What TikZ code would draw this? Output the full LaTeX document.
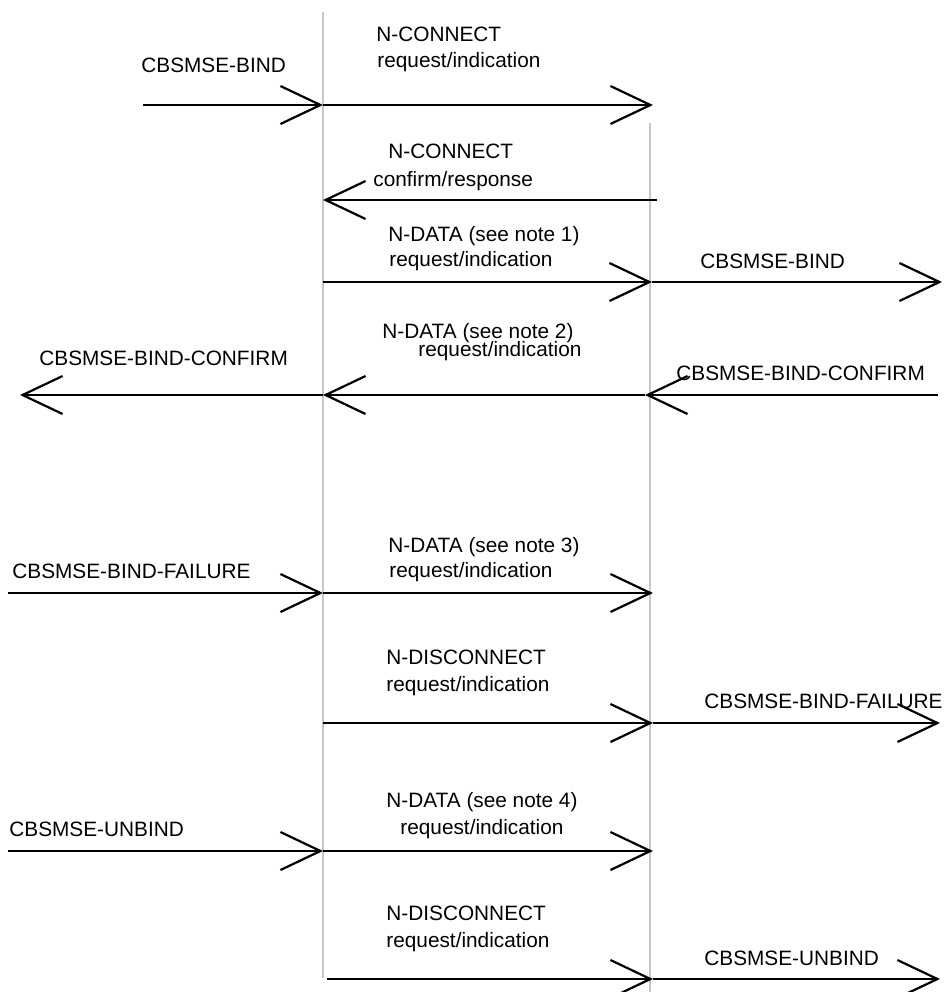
\documentclass[tikz,border=0pt]{standalone}
\usepackage{fontspec}
\setmainfont{Liberation Sans}
\usetikzlibrary{arrows.meta}
\tikzset{
	lbl/.style={anchor=base west, inner sep=0pt},
	msg/.style={->, line width=1.1pt},
	life/.style={line width=1.4pt, black!22}
}
\begin{document}
\begin{tikzpicture}[x=0.5pt, y=-0.5pt, font=\fontsize{10.4}{12}\selectfont, line join=round, >={Straight Barb[length=20pt,width=19pt]}]
	\useasboundingbox (0,0) rectangle (948,992);
	\def\xa{323} % first lifeline
	\def\xb{650} % second lifeline
	\coordinate (a0) at (\xa,12);
	\coordinate (a1) at (\xa,978);
	\coordinate (b0) at (\xb,123);
	\coordinate (b1) at (\xb,992);
	\draw[life] (a0)--(a1);
	\draw[life] (b0)--(b1);
	% end points of the messages
	\path 
	(143,105) coordinate (s1) (\xa,105) coordinate (p1) (653,105) coordinate (q1)
	(657,200) coordinate (q2) (\xa,200) coordinate (p2)
	(\xa,282) coordinate (p3) (652,282) coordinate (q3) (942,282) coordinate (r3)
	(938,395) coordinate (r4) (645,395) coordinate (q4) (\xa,395) coordinate (p4) (20,395) coordinate (s4)
	(8,593) coordinate (s5) (\xa,593) coordinate (p5) (653,593) coordinate (q5)
	(\xa,723) coordinate (p6) (653,723) coordinate (q6) (940,723) coordinate (r6)
	(8,851) coordinate (s7) (\xa,851) coordinate (p7) (653,851) coordinate (q7)
	(327,979) coordinate (p8) (653,979) coordinate (q8) (940,979) coordinate (r8);
	% labels
	\path 
	(141,72) node[lbl] (bindA) {CBSMSE-BIND}
	(376,41) node[lbl] (conA) {N-CONNECT}
	(377,67) node[lbl] (reqA) {request/indication}
	(388,158) node[lbl] (conB) {N-CONNECT}
	(373,186) node[lbl] (cnfB) {confirm/response}
	(388,241) node[lbl] (dat1) {N-DATA (see note 1)}
	(389,266) node[lbl] (req1) {request/indication}
	(700,268) node[lbl] (bindB) {CBSMSE-BIND}
	(39,365) node[lbl] (cfmA) {CBSMSE-BIND-CONFIRM}
	(382,338) node[lbl] (dat2) {N-DATA (see note 2)}
	(418,356) node[lbl] (req2) {request/indication}
	(676,380) node[lbl] (cfmB) {CBSMSE-BIND-CONFIRM}
	(12,578) node[lbl] (failA) {CBSMSE-BIND-FAILURE}
	(388,552) node[lbl] (dat3) {N-DATA (see note 3)}
	(389,577) node[lbl] (req3) {request/indication}
	(386,664) node[lbl] (disc1) {N-DISCONNECT}
	(386,691) node[lbl] (req4) {request/indication}
	(704,708) node[lbl] (failB) {CBSMSE-BIND-FAILURE}
	(9,836) node[lbl] (ubA) {CBSMSE-UNBIND}
	(386,807) node[lbl] (dat4) {N-DATA (see note 4)}
	(400,834) node[lbl] (req5) {request/indication}
	(386,920) node[lbl] (disc2) {N-DISCONNECT}
	(386,947) node[lbl] (req6) {request/indication}
	(704,965) node[lbl] (ubB) {CBSMSE-UNBIND};
	% messages
	\draw[msg] (s1)--(p1);
	\draw[msg] (p1)--(q1);
	\draw[msg] (q2)--(p2);
	\draw[msg] (p3)--(q3);
	\draw[msg] (q3)--(r3);
	\draw[msg] (r4)--(q4);
	\draw[msg] (q4)--(p4);
	\draw[msg] (p4)--(s4);
	\draw[msg] (s5)--(p5);
	\draw[msg] (p5)--(q5);
	\draw[msg] (p6)--(q6);
	\draw[msg] (q6)--(r6);
	\draw[msg] (s7)--(p7);
	\draw[msg] (p7)--(q7);
	\draw[msg] (p8)--(q8);
	\draw[msg] (q8)--(r8);
\end{tikzpicture}
\end{document}
